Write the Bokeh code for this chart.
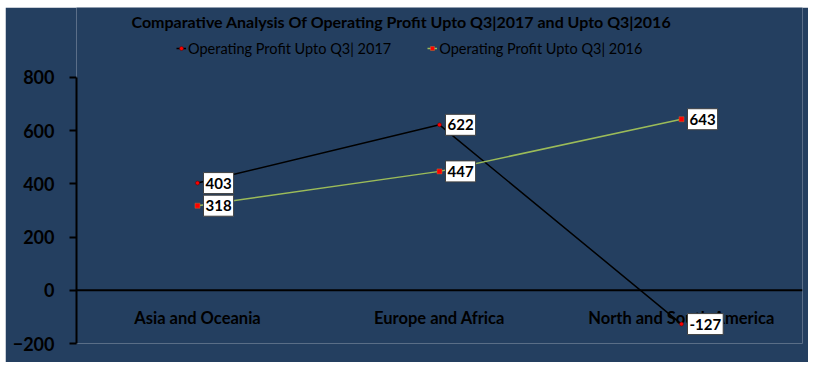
from bokeh.plotting import figure
from bokeh.models import ColumnDataSource, Range1d, FactorRange, Span, Label, Legend, LegendItem, FixedTicker
from bokeh.core.properties import value
from bokeh.embed import file_html
from bokeh.resources import INLINE

categories = ["Asia and Oceania", "Europe and Africa", "North and South America"]
profit_2017 = [403, 622, -127]
profit_2016 = [318, 447, 643]
y_ticks = [-200, 0, 200, 400, 600, 800]
title_text = "Comparative Analysis Of Operating Profit Upto Q3|2017 and Upto Q3|2016"
series_names = ["Operating Profit Upto Q3| 2017", "Operating Profit Upto Q3| 2016"]

BG = "#243f60"
FONT = "Lato"

src = ColumnDataSource(dict(
    cat=categories,
    v17=profit_2017,
    v16=profit_2016,
    t17=[str(v) for v in profit_2017],
    t16=[str(v) for v in profit_2016],
    lab_y=[-105] * len(categories),
))

p = figure(width=803, height=355, x_range=FactorRange(*categories),
           y_range=Range1d(-200, 1063), output_backend="svg", toolbar_location=None,
           x_axis_location=None, min_border_left=71, min_border_right=6,
           min_border_top=0, min_border_bottom=19, margin=(7, 0, 0, 5))
p.background_fill_color = BG
p.border_fill_color = BG
p.outline_line_color = None
p.grid.visible = False

yax = p.yaxis[0]
yax.bounds = (-200, 800)
yax.ticker = FixedTicker(ticks=y_ticks)
yax.axis_line_color = "black"
yax.axis_line_width = 2
yax.major_tick_line_color = "black"
yax.major_tick_line_width = 2
yax.major_tick_in = 0
yax.major_tick_out = 7
yax.minor_tick_line_color = None
yax.major_label_text_font = FONT
yax.major_label_text_font_style = "bold"
yax.major_label_text_font_size = "18px"
yax.major_label_text_color = "black"
yax.major_label_standoff = 15

p.add_layout(Span(location=0, dimension="width", line_color="black", line_width=2))

# category labels
p.text(x="cat", y="lab_y", text="cat", source=src, text_align="center", text_baseline="middle",
       text_font=value(FONT), text_font_style="bold", text_font_size="16.5px", text_color="black")

l17 = p.line("cat", "v17", source=src, line_color="black", line_width=1.5)
m17 = p.scatter("cat", "v17", source=src, marker="circle", size=4, fill_color="red", line_color="#600000", line_width=0.5)
l16 = p.line("cat", "v16", source=src, line_color="#9bbb59", line_width=1.5)
m16 = p.scatter("cat", "v16", source=src, marker="square", size=5, fill_color="red", line_color="#c07030", line_width=0.5)

for col, ycol in (("t17", "v17"), ("t16", "v16")):
    p.text(x="cat", y=ycol, text=col, source=src, x_offset=6, text_align="left", text_baseline="middle",
           text_font=value(FONT), text_font_style="bold", text_font_size="15px", text_color="black",
           background_fill_color="white", border_line_color="#404040", border_line_width=1, padding=(2, 5))

p.add_layout(Label(x=(401 - 76) / 242.0, y=1010, text=title_text, text_align="center", text_baseline="middle",
                   text_font=FONT, text_font_style="bold", text_font_size="16px", text_color="black"))

legend = Legend(items=[LegendItem(label=series_names[0], renderers=[l17, m17]),
                       LegendItem(label=series_names[1], renderers=[l16, m16])],
                orientation="horizontal", location=(100, 285), background_fill_alpha=0,
                border_line_color=None, padding=0, margin=0, spacing=36, glyph_width=10,
                label_text_font=FONT, label_text_font_size="14.5px", label_text_color="black",
                label_standoff=2)
p.add_layout(legend)

open("out.html", "w").write(file_html(p, INLINE))
